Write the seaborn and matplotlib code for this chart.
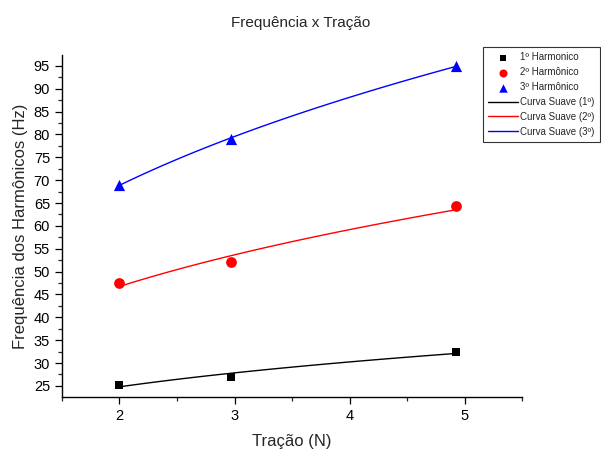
import numpy as np
import pandas as pd
import matplotlib
matplotlib.use("Agg")
import matplotlib.pyplot as plt
from matplotlib.ticker import MultipleLocator
import seaborn as sns

tracao = [2.0, 2.97, 4.92]
h1 = [25.2, 27.0, 32.5]
h2 = [47.5, 52.0, 64.3]
h3 = [69.0, 79.0, 95.0]
point_labels = ["1º Harmonico", "2º Harmônico", "3º Harmônico"]
curve_labels = ["Curva Suave (1º)", "Curva Suave (2º)", "Curva Suave (3º)"]
colors = ["black", "red", "blue"]
markers = ["s", "o", "^"]

sns.set_style("ticks")
plt.rcParams['font.family'] = ['Liberation Sans', 'DejaVu Sans']

fig = plt.figure(figsize=(6.01, 4.5), dpi=100)
ax = fig.add_axes([0.103, 0.118, 0.766, 0.760])

series = [h1, h2, h3]
pts = pd.DataFrame({
    "x": tracao * 3,
    "y": h1 + h2 + h3,
    "s": sum([[l] * 3 for l in point_labels], []),
})

# smooth power-law curves fitted to the data
xs = np.linspace(tracao[0], tracao[-1], 100)
curves = []
for vals, lab in zip(series, curve_labels):
    b, lna = np.polyfit(np.log(tracao), np.log(vals), 1)
    curves.append(pd.DataFrame({"x": xs, "y": np.exp(lna) * xs ** b, "s": lab}))
cdf = pd.concat(curves)

sizes = [40, 60, 65]
for lab, c, m, sz in zip(point_labels, colors, markers, sizes):
    sub = pts[pts.s == lab]
    sns.scatterplot(data=sub, x="x", y="y", color=c, marker=m, s=sz,
                    edgecolor=c, linewidth=0, ax=ax, label=lab, zorder=3)
for lab, c in zip(curve_labels, colors):
    sub = cdf[cdf.s == lab]
    sns.lineplot(data=sub, x="x", y="y", color=c, linewidth=1.0, ax=ax,
                 label=lab, zorder=2)

ax.set_xlim(1.5, 5.5)
ax.set_ylim(22.6, 97.4)
ax.xaxis.set_major_locator(MultipleLocator(1))
ax.xaxis.set_minor_locator(MultipleLocator(0.5))
ax.yaxis.set_major_locator(MultipleLocator(5))
ax.yaxis.set_minor_locator(MultipleLocator(2.5))
ax.tick_params(which="major", direction="out", length=5, width=0.9, labelsize=10.5, colors="black")
ax.tick_params(which="minor", direction="out", length=3, width=0.9)
for sp in ["top", "right"]:
    ax.spines[sp].set_visible(False)
for sp in ["left", "bottom"]:
    ax.spines[sp].set_linewidth(1)
    ax.spines[sp].set_color("black")

ax.set_xlabel("Tração (N)", fontsize=12, labelpad=8)
ax.set_ylabel("Frequência dos Harmônicos (Hz)", fontsize=12, labelpad=4)
fig.suptitle("Frequência x Tração", fontsize=11, y=0.965)

leg = ax.legend(loc="upper left", bbox_to_anchor=(483 / 601, 1 - 47 / 450),
                bbox_transform=fig.transFigure, fontsize=7, frameon=True,
                fancybox=False, borderpad=0.55, labelspacing=0.5,
                handlelength=3.0, handletextpad=0.3, borderaxespad=0,
                markerscale=0.75)
leg.get_frame().set_edgecolor("black")
leg.get_frame().set_linewidth(0.8)

fig.savefig("out.png", dpi=100)
